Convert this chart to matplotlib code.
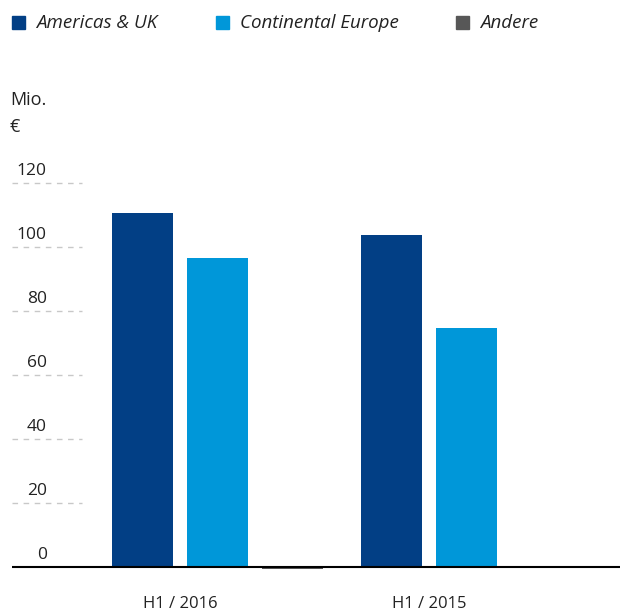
import matplotlib.pyplot as plt
from matplotlib.patches import Rectangle
import numpy as np

plt.rcParams['font.family'] = ['Open Sans', 'DejaVu Sans']

# data (Mio. €)
periods = ['H1 / 2016', 'H1 / 2015']
series = ['Americas & UK', 'Continental Europe', 'Andere']
americas = [110.6, 103.7]
continental = [96.6, 74.8]
andere = [-0.5, 0.0]
colors = ['#023f85', '#0097d9', '#575757']
yticks = [0, 20, 40, 60, 80, 100, 120]

fig = plt.figure(figsize=(6.2, 6.13), dpi=100)
ax = fig.add_axes([12 / 620, 0.0594, 608 / 620, 0.668])

x = np.arange(len(periods))
step = 0.301
width = 0.245
for i, (vals, col) in enumerate(zip([americas, continental, andere], colors)):
    ax.bar(x + (i - 1) * step, vals, width, color=col, zorder=2)

ax.set_xlim(-0.825, 1.616)
ax.set_ylim(-3, 125)
ax.axhline(0, color='black', lw=1.5, zorder=3)

for s in ax.spines.values():
    s.set_visible(False)
ax.set_yticks([])
ax.set_xticks(x - step / 2)
ax.set_xticklabels(periods, fontsize=12, color='#222222')
ax.tick_params(axis='x', length=0, pad=14)

# short dashed guide lines with labels above them
ytr = ax.get_yaxis_transform()
for v in yticks[1:]:
    ax.plot([0, 0.115], [v, v], transform=ytr, color='#c8c8c8', lw=1,
            ls=(0, (4, 4)), zorder=1)
for v in yticks:
    ax.annotate(str(v), xy=(0.057, v), xycoords=ytr, xytext=(0, 3),
                textcoords='offset points', ha='right', va='bottom',
                fontsize=12.5, color='#222222')

fig.text(10 / 620, 1 - 100 / 613, 'Mio.', fontsize=13, va='center', color='#222222')
fig.text(10 / 620, 1 - 127 / 613, '€', fontsize=13, va='center', color='#222222')

# legend
leg_x = [12, 216, 456]
for name, col, lx in zip(series, colors, leg_x):
    fig.patches.append(Rectangle((lx / 620, 1 - 29 / 613), 13 / 620, 13 / 613,
                                 transform=fig.transFigure, color=col))
    fig.text((lx + 24) / 620, 1 - 23.5 / 613, name, fontsize=13.5, style='italic',
             va='center', color='#222222')

fig.savefig('out.png', dpi=100)
